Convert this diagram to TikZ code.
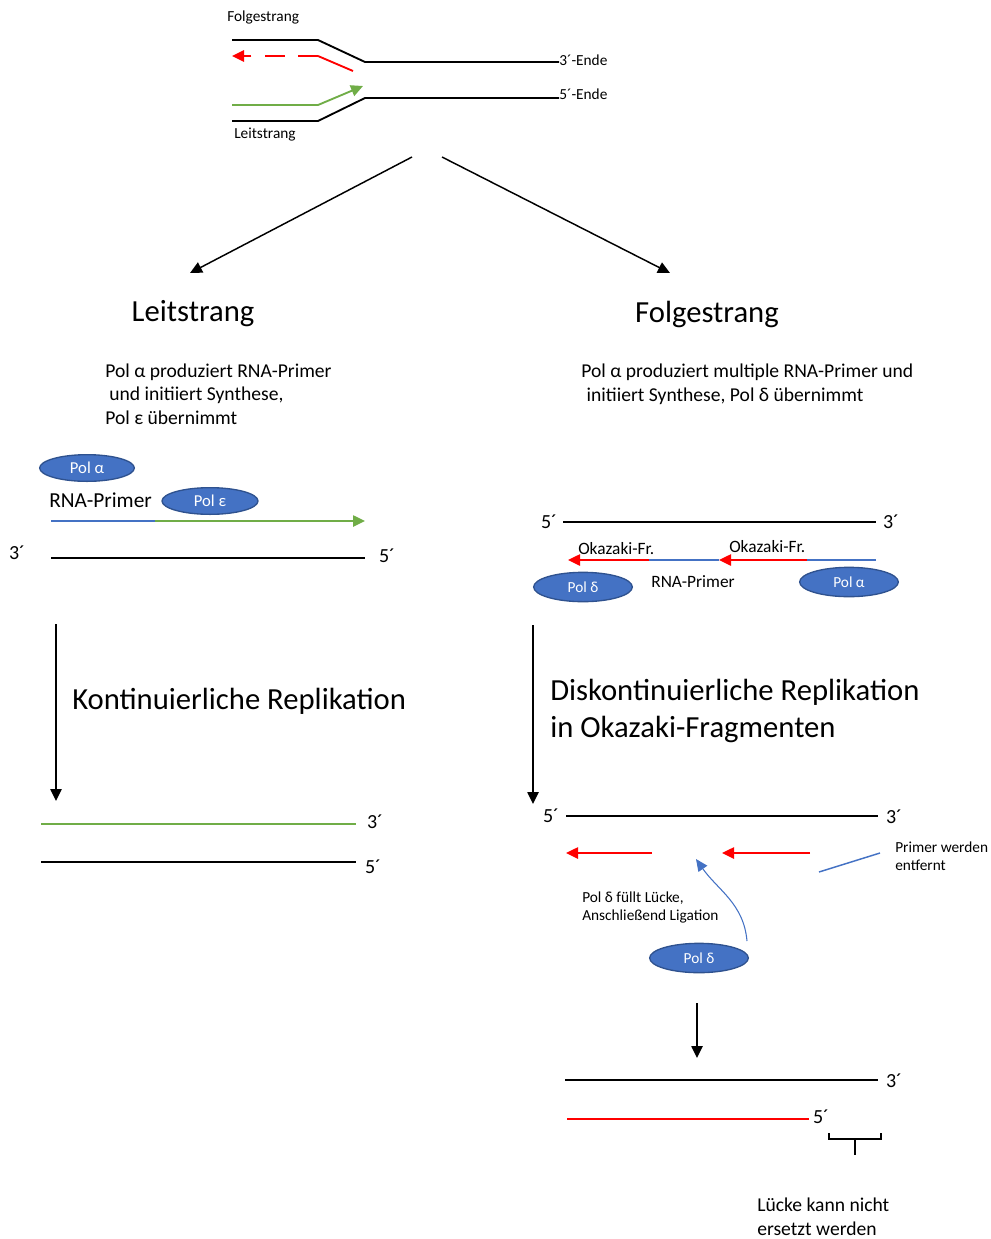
\documentclass[tikz,border=0pt]{standalone}
\usepackage{fontspec}
\setmainfont{Carlito}
\usetikzlibrary{shapes.geometric,arrows.meta}
\definecolor{rnablue}{HTML}{4472C4}
\definecolor{poledge}{HTML}{2F528F}
\definecolor{leadgreen}{HTML}{70AD47}
\begin{document}
\begin{tikzpicture}[x=0.75pt,y=-0.75pt,
  strand/.style={line width=1.4pt},
  thin strand/.style={line width=1.1pt},
  tip/.style={-{Triangle[length=9pt,width=8.5pt]}},
  pol node/.style={ellipse,draw=poledge,line width=1pt,fill=rnablue,text=white,
    inner sep=0pt,minimum width=72pt,minimum height=20pt,font=\fontsize{12.5}{14}\selectfont},
  small/.style={font=\fontsize{11.5}{13.5}\selectfont,inner sep=0pt,align=left},
  body/.style={font=\fontsize{14.7}{17.6}\selectfont,inner sep=0pt,align=left},
  head/.style={font=\fontsize{23}{27.7}\selectfont,inner sep=0pt,align=left},
  prime/.style={font=\fontsize{15}{17}\selectfont,inner sep=0pt}]

  \useasboundingbox (0,0) rectangle (991,1239);

  % replication fork
  \node[small,anchor=west] (fs) at (227,17) {Folgestrang};
  \node[small,anchor=west] (ls) at (234,135) {Leitstrang};
  \node[small,anchor=west] (e3) at (559,60) {3´-Ende};
  \node[small,anchor=west] (e5) at (559,94) {5´-Ende};
  \coordinate (a1) at (232,40);  \coordinate (a2) at (318,40);  \coordinate (a3) at (365,62);
  \coordinate (b1) at (232,121); \coordinate (b2) at (318,121); \coordinate (b3) at (365,98);
  \coordinate (r1) at (353,71);  \coordinate (r2) at (318,56);  \coordinate (r3) at (232,56);
  \coordinate (g1) at (232,105); \coordinate (g2) at (318,105); \coordinate (g3) at (363,86);
  \draw[strand] (a1) -- (a2) -- (a3) -- (a3 -| e3.west);
  \draw[strand] (b1) -- (b2) -- (b3) -- (b3 -| e5.west);
  \draw[strand,red] (r1) -- (r2);
  \draw[strand,red,tip,dash pattern=on 15pt off 10pt] (r2) -- (r3);
  \draw[strand,leadgreen,tip] (g1) -- (g2) -- (g3);

  \coordinate (sl) at (412,157); \coordinate (tl) at (190,273);
  \coordinate (sr) at (442,157); \coordinate (tr) at (670,273);
  \path[thin strand,tip] (sl) edge (tl) (sr) edge (tr);

  \node[head] (lead) at (193,314) {Leitstrang};
  \node[head] (lag) at (707,314) {Folgestrang};

  % leading strand
  \node[body,anchor=base west] (ltext) at (105,424)
    {Pol α produziert RNA-Primer\\\hspace*{3pt}und initiiert Synthese,\\Pol ε übernimmt};
  \node[pol node,minimum width=71pt] (pa) at (87,468) {Pol α};
  \node[inner sep=0pt,anchor=west,font=\fontsize{16}{18}\selectfont] (rpl) at (49,500) {RNA-Primer};
  \node[pol node,minimum width=72pt] (pe) at (210,501) {Pol ε};
  \coordinate (p1) at (51,521); \coordinate (p2) at (155,521); \coordinate (p3) at (365,521);
  \draw[thin strand,rnablue] (p1) -- (p2);
  \draw[thin strand,leadgreen,tip] (p2) -- (p3);
  \node[prime] (l3) at (17,553) {3´};
  \node[prime] (l5) at (387,556) {5´};
  \draw[thin strand] (51,558) coordinate (t1) -- (365,558) coordinate (t2);

  \coordinate (dl1) at (56,624); \coordinate (dl2) at (56,801);
  \draw[thin strand,tip] (dl1) -- (dl2);
  \node[head,anchor=west] (kont) at (72,701) {Kontinuierliche Replikation};

  \node[prime] (k3) at (375,822) {3´};
  \node[prime] (k5) at (373,867) {5´};
  \draw[thin strand,leadgreen] (41,824) coordinate (k1) -- (356,824) coordinate (k2);
  \draw[thin strand] (41,862) coordinate (k4) -- (356,862) coordinate (k6);

  % lagging strand
  \node[body,anchor=base west] (rtext) at (581,401)
    {Pol α produziert multiple RNA-Primer und\\\hspace*{4pt}initiiert Synthese, Pol δ übernimmt};
  \node[prime] (f5) at (549,522) {5´};
  \node[prime] (f3) at (891,522) {3´};
  \draw[thin strand] (563,522) coordinate (f1) -- (876,522) coordinate (f2);
  \coordinate (o1) at (876,560); \coordinate (o2) at (807,560); \coordinate (o3) at (719,560);
  \coordinate (o4) at (649,560); \coordinate (o5) at (568,560);
  \draw[thin strand,rnablue] (o1) -- (o2) (o3) -- (o4);
  \draw[thin strand,red,tip] (o2) -- (o3);
  \draw[thin strand,red,tip] (o4) -- (o5);
  \node[body,anchor=west,font=\fontsize{13}{15}\selectfont] (ok1) at (578,549) {Okazaki-Fr.};
  \node[body,anchor=west,font=\fontsize{13}{15}\selectfont] (ok2) at (729,547) {Okazaki-Fr.};
  \node[pol node,minimum width=74pt,minimum height=22pt,font=\fontsize{11.5}{13}\selectfont] (pd) at (583,587) {Pol δ};
  \node[body,font=\fontsize{13}{15}\selectfont] (rpr) at (693,582) {RNA-Primer};
  \node[pol node,minimum width=74pt,minimum height=22pt,font=\fontsize{11.5}{13}\selectfont] (pa2) at (849,582) {Pol α};

  \coordinate (dr1) at (533,625); \coordinate (dr2) at (533,804);
  \draw[thin strand,tip] (dr1) -- (dr2);
  \node[head,anchor=base west] (disk) at (550,737)
    {Diskontinuierliche Replikation\\in Okazaki-Fragmenten};

  \node[prime] (h5) at (551,816) {5´};
  \node[prime] (h3) at (894,817) {3´};
  \draw[thin strand] (566,816) coordinate (h1) -- (878,816) coordinate (h2);
  \draw[thin strand,red,tip] (652,853) coordinate (q1) -- (566,853) coordinate (q2);
  \draw[thin strand,red,tip] (810,853) coordinate (q3) -- (722,853) coordinate (q4);
  \draw[thin strand,rnablue] (819,872) coordinate (q5) -- (880,853) coordinate (q6);
  \node[small,anchor=base west] (rem) at (895,870) {Primer werden\\entfernt};
  \node[small,anchor=base west] (fill) at (582,920) {Pol δ füllt Lücke,\\Anschließend Ligation};
  \node[pol node,minimum width=74pt,minimum height=22pt,font=\fontsize{11.5}{13}\selectfont] (pd2) at (699,958) {Pol δ};
  \coordinate (c1) at (747,941); \coordinate (c2) at (696,859);
  \draw[line width=0.8pt,rnablue,-{Triangle[length=9pt,width=8pt]}] (c1) to[out=95,in=-55] (c2);

  \coordinate (dd1) at (697,1003); \coordinate (dd2) at (697,1058);
  \draw[thin strand,tip] (dd1) -- (dd2);
  \node[prime] (z3) at (894,1081) {3´};
  \node[prime] (z5) at (821,1117) {5´};
  \draw[thin strand] (565,1080) coordinate (z1) -- (878,1080) coordinate (z2);
  \draw[thin strand,red] (567,1119) coordinate (z4) -- (809,1119) coordinate (z6);
  \coordinate (br1) at (829,1133); \coordinate (br2) at (881,1133);
  \coordinate (br3) at (855,1139); \coordinate (br4) at (855,1155);
  \draw[thin strand] (br1) -- (br1 |- br3) -- (br2 |- br3) -- (br2);
  \draw[thin strand] (br3) -- (br4);
  \node[body,anchor=base west] (gap) at (757,1235) {Lücke kann nicht\\ersetzt werden};
\end{tikzpicture}
\end{document}
